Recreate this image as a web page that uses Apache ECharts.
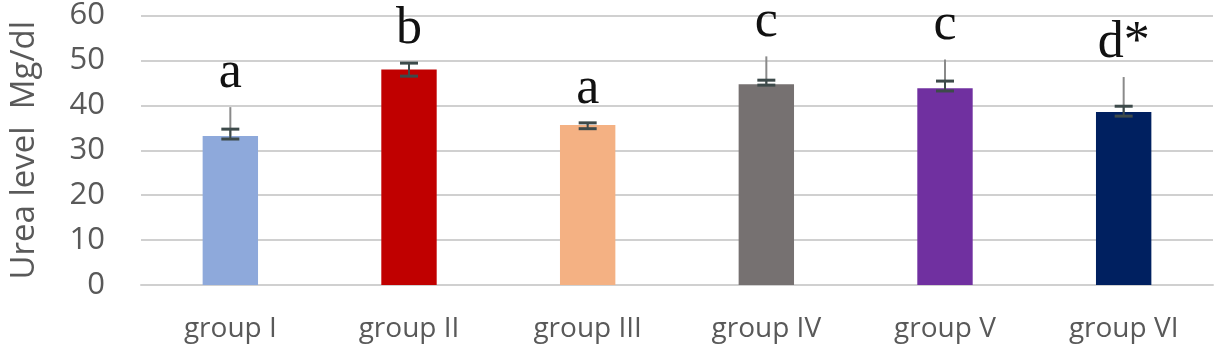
<!DOCTYPE html>
<html>
<head>
<meta charset="utf-8">
<script src="https://cdn.jsdelivr.net/npm/echarts@6/dist/echarts.min.js"></script>
<style>
html,body{margin:0;padding:0;background:#fff;}
#chart{width:1218px;height:352px;}
</style>
</head>
<body>
<div id="chart"></div>
<script>
var groups = ['group I', 'group II', 'group III', 'group IV', 'group V', 'group VI'];
var means = [33.2, 48.0, 35.6, 44.7, 43.8, 38.5];
var capLow = [32.5, 46.5, 34.8, 44.5, 43.2, 37.6];
var capHigh = [34.7, 49.4, 36.1, 45.6, 45.4, 39.8];
var whiskerTop = [39.6, 49.4, 36.1, 50.9, 50.2, 46.3];
var letters = ['a', 'b', 'a', 'c', 'c', 'd*'];
var barColors = ['#8EA9DB', '#C00000', '#F4B183', '#767171', '#7030A0', '#002060'];

(function(){

var chart = echarts.init(document.getElementById('chart'));

var errData = groups.map(function (g, i) {
    return [i, means[i], capLow[i], capHigh[i], whiskerTop[i]];
});
var letterData = groups.map(function (g, i) {
    return [i, whiskerTop[i], letters[i]];
});

option = {
    animation: false,
    grid: {
        left: 137,
        right: 5,
        top: 14,
        bottom: 67
    },
    xAxis: {
        type: 'category',
        data: groups,
        axisTick: { show: false },
        axisLine: { lineStyle: { color: '#d0d0d0', width: 2 } },
        axisLabel: {
            color: '#595959',
            fontFamily: 'Open Sans',
            fontSize: 28,
            margin: 30
        }
    },
    yAxis: {
        type: 'value',
        min: 0,
        max: 60,
        interval: 10,
        name: 'Urea level  Mg/dl',
        nameLocation: 'middle',
        nameGap: 100,
        nameTextStyle: {
            color: '#595959',
            fontFamily: 'Open Sans',
            fontSize: 33
        },
        axisLabel: {
            color: '#595959',
            fontFamily: 'Open Sans',
            fontSize: 31,
            margin: 36
        },
        splitLine: { lineStyle: { color: '#d0d0d0', width: 2 } }
    },
    series: [
        {
            type: 'bar',
            barWidth: '31%',
            data: means.map(function (v, i) {
                return { value: v, itemStyle: { color: barColors[i] } };
            })
        },
        {
            // error bars: capped part plus a plain whisker above it
            type: 'custom',
            data: errData,
            z: 5,
            renderItem: function (params, api) {
                var i = api.value(0);
                var x = api.coord([i, 0])[0];
                var yMean = api.coord([i, api.value(1)])[1];
                var yLo = api.coord([i, api.value(2)])[1];
                var yHi = api.coord([i, api.value(3)])[1];
                var yTop = api.coord([i, api.value(4)])[1];
                var hw = 9;
                return {
                    type: 'group',
                    children: [
                        { type: 'line', shape: { x1: x, y1: yTop, x2: x, y2: yMean },
                          style: { stroke: '#8a8a8a', lineWidth: 2 } },
                        { type: 'line', shape: { x1: x, y1: yLo, x2: x, y2: yHi },
                          style: { stroke: '#3d4a4a', lineWidth: 2 } },
                        { type: 'line', shape: { x1: x - hw, y1: yLo, x2: x + hw, y2: yLo },
                          style: { stroke: '#3d4a4a', lineWidth: 3 } },
                        { type: 'line', shape: { x1: x - hw, y1: yHi, x2: x + hw, y2: yHi },
                          style: { stroke: '#3d4a4a', lineWidth: 3 } }
                    ]
                };
            }
        },
        {
            type: 'custom',
            data: letterData,
            z: 6,
            renderItem: function (params, api) {
                var i = api.value(0);
                var p = api.coord([i, api.value(1)]);
                return {
                    type: 'text',
                    x: p[0],
                    y: p[1] - 8,
                    style: {
                        text: letters[params.dataIndex],
                        fill: '#111',
                        font: '52px "Liberation Serif"',
                        align: 'center',
                        verticalAlign: 'bottom'
                    }
                };
            }
        }
    ]
};

chart.setOption(option);
})();
</script>
</body>
</html>
